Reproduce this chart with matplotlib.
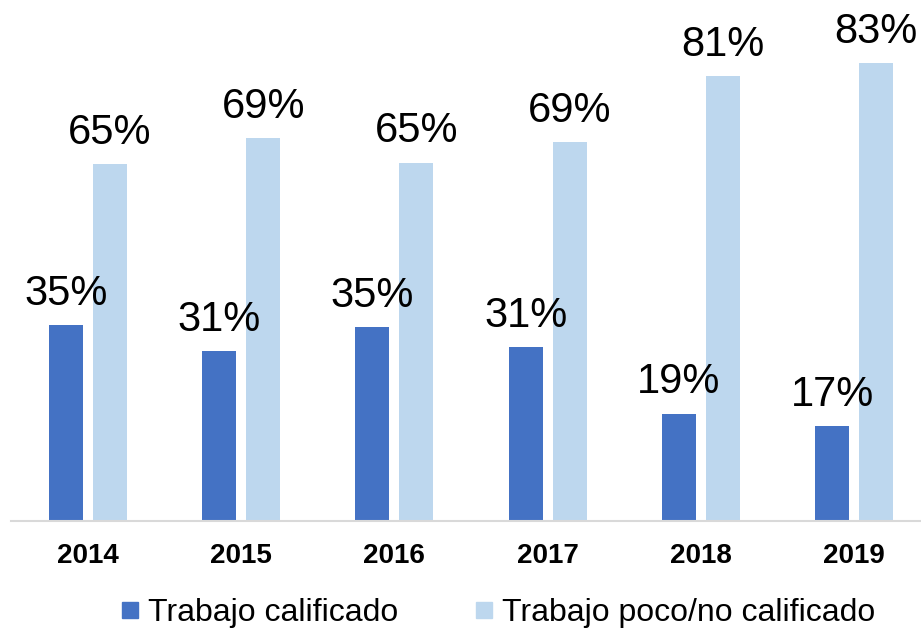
import matplotlib
matplotlib.use("Agg")
import matplotlib.pyplot as plt
import numpy as np
from matplotlib.lines import Line2D

years = ["2014", "2015", "2016", "2017", "2018", "2019"]
calificado = [35.4, 30.7, 35.1, 31.4, 19.4, 17.1]
poco_no = [64.6, 69.3, 64.9, 68.6, 80.6, 82.9]
series_names = ["Trabajo calificado", "Trabajo poco/no calificado"]
colors = ["#4472C4", "#BDD7EE"]

plt.rcParams['font.family'] = ['Liberation Sans', 'DejaVu Sans']

W, H = 921, 630
fig = plt.figure(figsize=(W / 100, H / 100), dpi=100)
base_px = 520.5
ax = fig.add_axes([11.4 / W, (H - base_px) / H, 919.2 / W, base_px / H])

x = np.arange(len(years))
bw = 0.222
off = 0.1436
b1 = ax.bar(x - off, calificado, bw, color=colors[0])
b2 = ax.bar(x + off, poco_no, bw, color=colors[1])

for bars, vals in ((b1, calificado), (b2, poco_no)):
    for rect, v in zip(bars, vals):
        ax.annotate(f"{v:.0f}%", (rect.get_x() + rect.get_width() / 2, rect.get_height()),
                    xytext=(0, 14.5), textcoords="offset points",
                    ha="center", va="baseline", fontsize=30, color="black")

ax.set_xlim(-0.5, 5.5)
ax.set_ylim(0, base_px / 5.515)
ax.set_yticks([])
ax.set_xticks(x)
ax.set_xticklabels(years, fontsize=20, fontweight="bold")
ax.tick_params(axis="x", length=0, pad=16)
for s in ("top", "right", "left"):
    ax.spines[s].set_visible(False)
ax.spines["bottom"].set_color("#D9D9D9")
ax.spines["bottom"].set_linewidth(1.5)

handles = [Line2D([], [], marker="s", linestyle="none", markersize=11.5,
                  markerfacecolor=c, markeredgecolor=c) for c in colors]
fig.legend(handles, series_names, loc="center", bbox_to_anchor=(498 / W, (H - 613) / H),
           ncol=2, frameon=False, fontsize=23, handlelength=0.55, handletextpad=0.3,
           columnspacing=2.4, borderpad=0, borderaxespad=0)

fig.savefig("out.png", dpi=100)
